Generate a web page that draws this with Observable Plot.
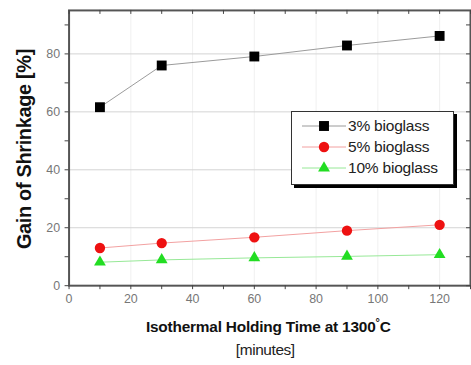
<!DOCTYPE html>
<html>
<head>
<meta charset="utf-8">
<script src="https://cdn.jsdelivr.net/npm/d3@7"></script>
<script src="https://cdn.jsdelivr.net/npm/@observablehq/plot@0.6"></script>
<style>
  html, body { margin: 0; padding: 0; background: #fff; overflow: hidden; width: 471px; height: 365px; }
  #wrap { position: relative; width: 471px; height: 365px; overflow: hidden; }
  #legend { position: absolute; left: 291px; top: 111px; width: 161px; height: 72px;
            background: #fff; border: 1px solid #333; box-shadow: 3px 3px 0 #000;
            font-family: "Liberation Sans", Arial, sans-serif; font-size: 15.5px; color: #222; }
  .row { position: absolute; left: 0; height: 20px; display: flex; align-items: center; }
  .row svg { display: block; }
  .row span { margin-left: 2px; letter-spacing: -0.2px; }
</style>
</head>
<body>
<div id="wrap"></div>
<script>
// ---- data ----
const time = [10, 30, 60, 90, 120];
const seriesNames = ["3% bioglass", "5% bioglass", "10% bioglass"];
const gain3 = [61.6, 76.0, 79.1, 82.9, 86.2];
const gain5 = [13.0, 14.7, 16.7, 19.0, 21.0];
const gain10 = [8.1, 8.9, 9.6, 10.1, 10.7];
const xTicks = [0, 20, 40, 60, 80, 100, 120];
const xMinor = [10, 30, 50, 70, 90, 110, 130];
const yTicks = [0, 20, 40, 60, 80];
const yMinor = [10, 30, 50, 70, 90];
const yLabel = "Gain of Shrinkage [%]";
const xLabelMain = "Isothermal Holding Time at 1300";
const xLabelUnit = "[minutes]";

// ---- styles ----
const lineColors = ["#9a9a9a", "#f2a0a0", "#96e896"];
const markColors = ["#000000", "#ee1111", "#22dd22"];
const symbols = ["square", "circle", "triangle"];
const sizes = [5.6, 5.2, 4.4];

const values = [gain3, gain5, gain10];
const data = seriesNames.flatMap((s, i) => time.map((t, j) => ({series: s, t, v: values[i][j]})));

const plot = Plot.plot({
  width: 474,
  height: 365,
  marginLeft: 69,
  marginRight: 1,
  marginTop: 10,
  marginBottom: 78,
  x: {domain: [0, 130]},
  y: {domain: [0, 95]},
  style: {fontFamily: "'Liberation Sans', Arial, sans-serif", background: "#fff"},
  marks: [
    Plot.gridX([20, 40, 60, 80, 100, 120], {stroke: "#f0f0f0", strokeOpacity: 1}),
    Plot.gridY([20, 40, 60, 80], {stroke: "#d4d4d4", strokeOpacity: 1}),
    ...seriesNames.map((s, i) => Plot.line(data.filter(d => d.series === s), {x: "t", y: "v", stroke: lineColors[i], strokeWidth: 1})),
    ...seriesNames.map((s, i) => Plot.dot(data.filter(d => d.series === s), {x: "t", y: "v", symbol: symbols[i], r: sizes[i], fill: markColors[i], stroke: "none"})),
    Plot.frame({stroke: "#555", strokeWidth: 2}),
    Plot.axisY(yTicks, {tickSize: 4, tickPadding: 5, fill: "#777", fontSize: 12.5, label: null, stroke: "#444"}),
    Plot.axisY(yMinor, {tickSize: 4, tickFormat: () => "", label: null, stroke: "#444"}),
    Plot.axisX(xTicks, {tickSize: 4, tickPadding: 5, fill: "#777", fontSize: 12.5, label: null, stroke: "#444"}),
    Plot.axisX(xMinor, {tickSize: 4, tickFormat: () => "", label: null, stroke: "#444"}),
    Plot.tickX(xTicks.concat(xMinor), {x: d => d, insetBottom: 273, stroke: "#444"}),
    Plot.tickY(yTicks.concat(yMinor), {y: d => d, insetLeft: 400, stroke: "#444"})
  ]
});

const wrap = document.getElementById("wrap");
wrap.appendChild(plot);

// axis titles
const svg = d3.select(plot);
svg.append("text")
  .attr("transform", "translate(26,150) rotate(-90)")
  .attr("text-anchor", "middle")
  .attr("dominant-baseline", "middle")
  .attr("font-family", "'Liberation Sans', Arial, sans-serif")
  .attr("font-weight", "bold")
  .attr("font-size", 20)
  .attr("letter-spacing", "-0.3")
  .attr("fill", "#111")
  .text(yLabel);

const xt = svg.append("text")
  .attr("x", 270)
  .attr("y", 334)
  .attr("text-anchor", "middle")
  .attr("font-family", "'Liberation Sans', Arial, sans-serif")
  .attr("font-weight", "bold")
  .attr("font-size", 15.5)
  .attr("letter-spacing", "-0.2")
  .attr("fill", "#111");
xt.append("tspan").text(xLabelMain);
xt.append("tspan").attr("dy", -6).attr("font-size", 11).text("°");
xt.append("tspan").attr("dy", 6).text("C");

svg.append("text")
  .attr("x", 267)
  .attr("y", 357)
  .attr("text-anchor", "middle")
  .attr("font-family", "'Liberation Sans', Arial, sans-serif")
  .attr("font-size", 15.5)
  .attr("letter-spacing", "-0.4")
  .attr("fill", "#222")
  .text(xLabelUnit);

// legend
const legend = document.createElement("div");
legend.id = "legend";
wrap.appendChild(legend);
const rowTops = [4, 25, 46];
seriesNames.forEach((s, i) => {
  const row = document.createElement("div");
  row.className = "row";
  row.style.top = rowTops[i] + "px";
  legend.appendChild(row);
  const sw = d3.select(row).append("svg").attr("width", 54).attr("height", 20);
  sw.append("line").attr("x1", 10).attr("x2", 54).attr("y1", 10).attr("y2", 10)
    .attr("stroke", lineColors[i]).attr("stroke-width", 1);
  const symMap = {square: d3.symbolSquare, circle: d3.symbolCircle, triangle: d3.symbolTriangle};
  sw.append("path")
    .attr("transform", "translate(32,10)")
    .attr("d", d3.symbol(symMap[symbols[i]], Math.PI * sizes[i] * sizes[i])())
    .attr("fill", markColors[i]);
  const label = document.createElement("span");
  label.textContent = s;
  row.appendChild(label);
});
</script>
</body>
</html>
